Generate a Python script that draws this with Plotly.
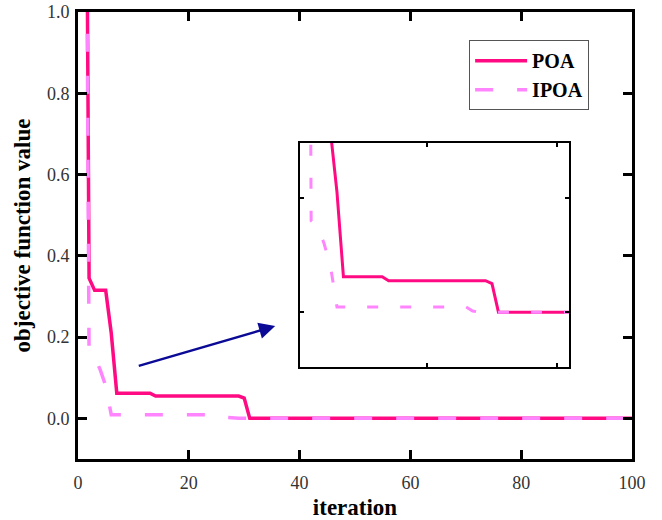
import plotly.graph_objects as go

iterations = list(range(1, 101))

poa_head = [2.6, 0.345, 0.315, 0.315, 0.315, 0.21, 0.062, 0.062, 0.062, 0.062,
            0.062, 0.062, 0.062, 0.055, 0.055, 0.055, 0.055, 0.055, 0.055, 0.055,
            0.055, 0.055, 0.055, 0.055, 0.055, 0.055, 0.055, 0.055, 0.055, 0.05]
poa = poa_head + [0.0] * (100 - len(poa_head))

ipoa_head = [2.6, 0.16, 0.15, 0.12, 0.08, 0.009, 0.009, 0.009, 0.009, 0.009,
             0.009, 0.009, 0.009, 0.009, 0.009, 0.009, 0.009, 0.009, 0.009, 0.009,
             0.009, 0.009, 0.009, 0.009, 0.009, 0.009, 0.002]
ipoa = ipoa_head + [0.0] * (100 - len(ipoa_head))

x_ticks = [0, 20, 40, 60, 80, 100]
y_ticks = [0.0, 0.2, 0.4, 0.6, 0.8, 1.0]
y_tick_labels = ["0.0", "0.2", "0.4", "0.6", "0.8", "1.0"]

POA_COLOR = "#FF0A82"
IPOA_COLOR = "#FF85FF"

fig = go.Figure()
# main
fig.add_trace(go.Scatter(x=iterations, y=poa, mode="lines", name="POA",
                         line=dict(color=POA_COLOR, width=3.5)))
fig.add_trace(go.Scatter(x=iterations, y=ipoa, mode="lines", name="IPOA",
                         line=dict(color=IPOA_COLOR, width=3.5, dash="18px,24px")))
# inset
fig.add_trace(go.Scatter(x=iterations, y=poa, mode="lines", showlegend=False,
                         xaxis="x2", yaxis="y2",
                         line=dict(color=POA_COLOR, width=3)))
fig.add_trace(go.Scatter(x=iterations, y=ipoa, mode="lines", showlegend=False,
                         xaxis="x2", yaxis="y2",
                         line=dict(color=IPOA_COLOR, width=3, dash="11px,22px")))

tickfont = dict(family="Liberation Serif", size=18, color="#333333")
titlefont = dict(family="Liberation Serif", size=23, color="black", weight="bold")

fig.update_layout(
    width=662, height=520,
    margin=dict(l=78, r=30, t=12, b=61),
    paper_bgcolor="white", plot_bgcolor="white",
    showlegend=True,
    legend=dict(x=0.706, y=0.937, xanchor="left", yanchor="top",
                bgcolor="white", bordercolor="#555555", borderwidth=1,
                font=dict(family="Liberation Serif", size=20, color="black", weight="bold"),
                itemwidth=52, tracegroupgap=0),
    xaxis=dict(range=[0, 100], tickvals=x_ticks, ticks="inside", ticklen=9, tickwidth=2.5,
               tickcolor="black", showline=True, linecolor="black", linewidth=3, mirror="ticks",
               showgrid=False, zeroline=False, tickfont=tickfont, ticklabelstandoff=5,
               automargin=False,
               title=dict(text="iteration", font=titlefont, standoff=14)),
    yaxis=dict(range=[-0.1, 1.0], tickvals=y_ticks, ticktext=y_tick_labels, ticks="inside",
               ticklen=9, tickwidth=2.5, tickcolor="black", showline=True, linecolor="black",
               linewidth=3, mirror="ticks", showgrid=False, zeroline=False, tickfont=tickfont,
               ticklabelstandoff=2, automargin=False,
               title=dict(text="objective function value", font=titlefont, standoff=10)),
    xaxis2=dict(domain=[0.401, 0.886], anchor="y2", range=[0.3, 41.9], tickvals=[0, 20, 40],
                ticks="inside", ticklen=4, tickwidth=1.5, tickcolor="black", showline=True,
                linecolor="black", linewidth=2, mirror="ticks", showgrid=False, zeroline=False,
                showticklabels=False),
    yaxis2=dict(domain=[0.2056, 0.7073], anchor="x2", range=[-0.096, 0.296], tickvals=[0.0, 0.2],
                ticks="inside", ticklen=4, tickwidth=1.5, tickcolor="black", showline=True,
                linecolor="black", linewidth=2, mirror="ticks", showgrid=False, zeroline=False,
                showticklabels=False),
)

fig.add_annotation(x=35.6, y=0.227, ax=10.7, ay=0.128, xref="x", yref="y", axref="x", ayref="y",
                   showarrow=True, arrowhead=2, arrowsize=1.3, arrowwidth=2.5, arrowcolor="#0A0A96",
                   text="")

fig.write_html("out.html")
